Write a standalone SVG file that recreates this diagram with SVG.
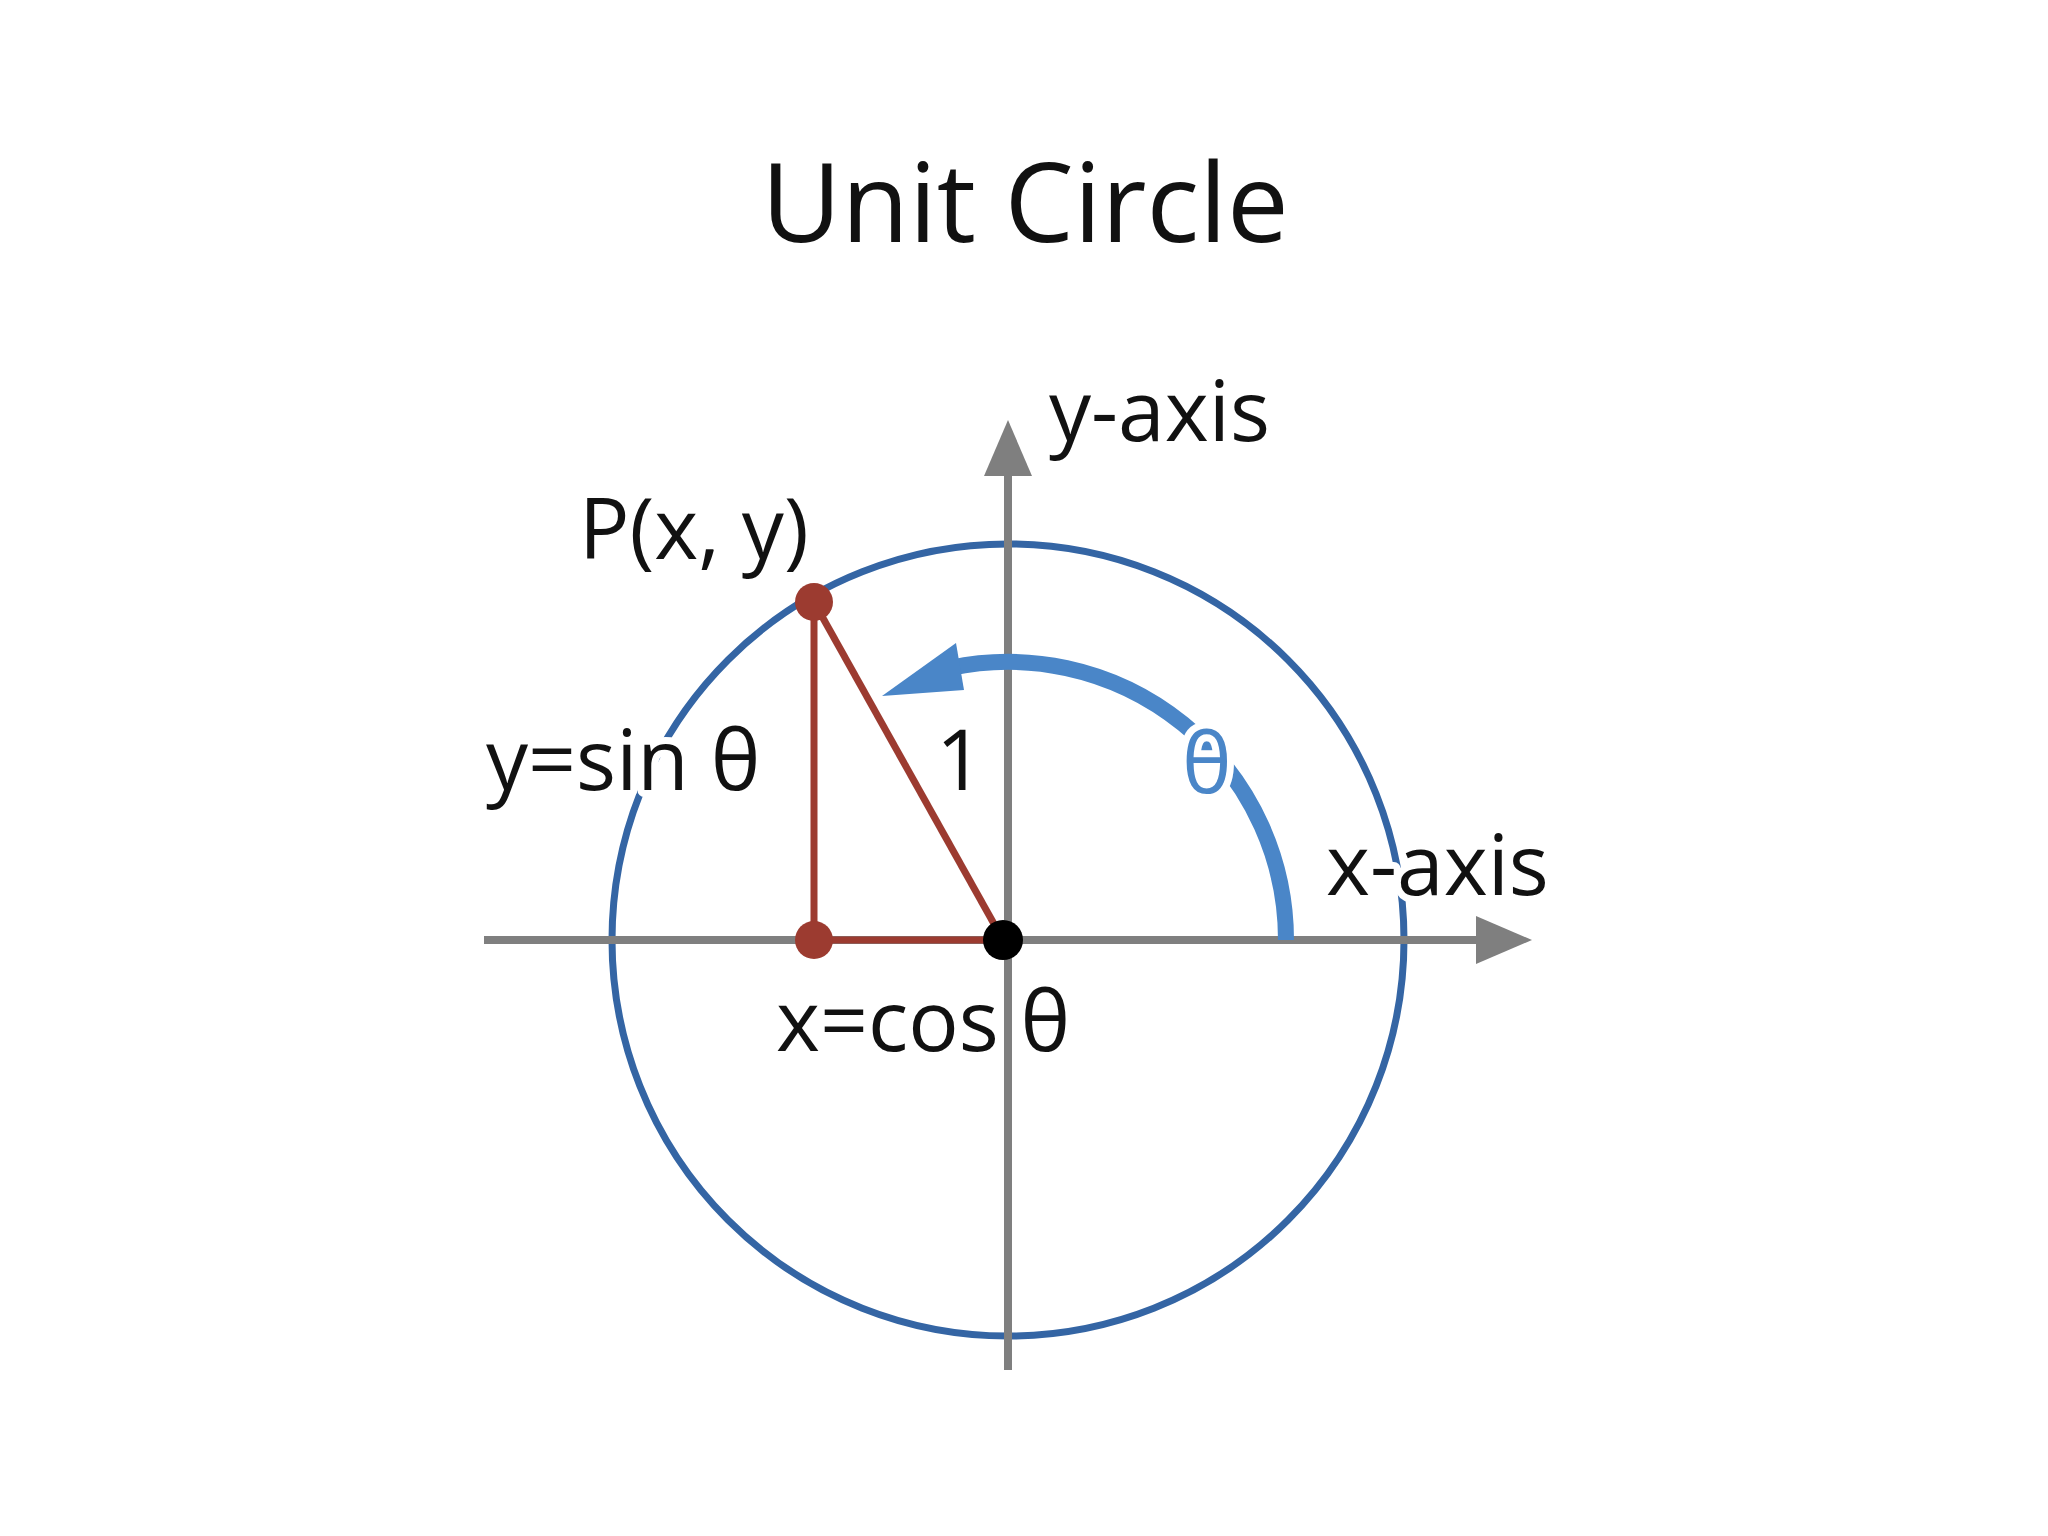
<svg xmlns="http://www.w3.org/2000/svg" width="2048" height="1536" viewBox="0 0 2048 1536">
<style>
text{font-family:"Open Sans","DejaVu Sans",sans-serif;font-size:84px;fill:#111;paint-order:stroke;stroke:#fff;stroke-width:14px;stroke-linejoin:round}
.ax{stroke:#7f7f7f;stroke-width:8;fill:none}
.red{stroke:#9c3b30;stroke-width:7;fill:none}
</style>
<rect width="2048" height="1536" fill="#fff"/>
<text x="1025" y="242" text-anchor="middle" style="font-size:110px;stroke:none">Unit Circle</text>
<g id="circle"><circle cx="1008" cy="940" r="396" fill="none" stroke="#3465a4" stroke-width="7"/></g>
<g id="axes">
<line class="ax" x1="484" y1="940" x2="1482" y2="940"/>
<polygon points="1532,940 1476,916 1476,964" fill="#7f7f7f"/>
<line class="ax" x1="1008" y1="1370" x2="1008" y2="470"/>
<polygon points="1008,420 984,476 1032,476" fill="#7f7f7f"/>
</g>
<g id="angle">
<path d="M1286,940 A278,278 0 0 0 950,668" fill="none" stroke="#4a86c8" stroke-width="16"/>
<polygon points="956,643 964,690 882,696" fill="#4a86c8"/>
</g>
<g id="triangle">
<line class="red" x1="814" y1="602" x2="814" y2="940"/>
<line class="red" x1="814" y1="940" x2="1003" y2="940"/>
<line class="red" x1="814" y1="602" x2="1003" y2="940"/>
<circle cx="814" cy="602" r="19" fill="#9c3b30"/>
<circle cx="814" cy="940" r="19" fill="#9c3b30"/>
<circle cx="1003" cy="940" r="20" fill="#000"/>
</g>
<text x="1049" y="441">y-axis</text>
<text x="579" y="559">P(x, y)</text>
<text x="486" y="790">y=sin θ</text>
<text x="936" y="790" style="stroke:none">1</text>
<text x="1182" y="793" style="fill:#4a86c8">θ</text>
<text x="1326" y="895">x-axis</text>
<text x="776" y="1051">x=cos θ</text>
</svg>
